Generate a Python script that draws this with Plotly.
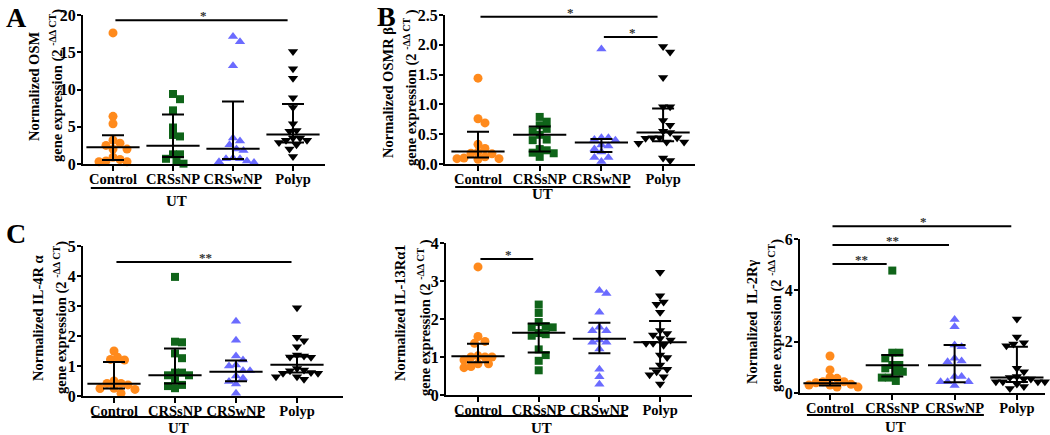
import plotly.graph_objects as go

WIDTH, HEIGHT = 1050, 435
SERIF = "Liberation Serif"

GROUPS = ["Control", "CRSsNP", "CRSwNP", "Polyp"]
SYMBOLS = ["circle", "square", "triangle-up", "triangle-down"]
COLORS = ["#FF8A1C", "#0F6419", "#6B6BFF", "#000000"]
SIZES = [9, 8, 9, 9]

# A: OSM
osm_control = [17.6, 6.4, 5.4, 3.2, 2.8, 2.5, 2.0, 2.0, 0.9, 0.6, 0.4, 0.3, 0.3]
osm_crssnp = [9.4, 8.7, 7.2, 4.9, 3.9, 3.7, 1.3, 1.3, 0.7, 0.4, 0.05]
osm_crswnp = [17.1, 16.4, 13.2, 3.5, 3.1, 2.6, 2.0, 1.8, 0.8, 0.7, 0.7, 0.4, 0.3, 0.2]
osm_polyp = [15.1, 12.8, 11.5, 8.9, 7.6, 5.4, 4.5, 4.4, 3.5, 3.5, 3.2, 3.2, 2.9, 2.6, 2.0, 1.0]
osm_median = [2.25, 2.46, 2.05, 3.95]
osm_q1 = [0.55, 0.95, 0.67, 2.9]
osm_q3 = [3.85, 6.65, 8.4, 8.05]
osm_sig = [(0, 3, 19.3, "*")]

# B: OSMR beta
osmr_control = [1.44, 0.76, 0.69, 0.33, 0.26, 0.2, 0.18, 0.17, 0.12, 0.1, 0.09, 0.09, 0.08]
osmr_crssnp = [0.79, 0.71, 0.65, 0.59, 0.55, 0.49, 0.41, 0.40, 0.25, 0.23, 0.19, 0.18, 0.12]
osmr_crswnp = [1.93, 0.44, 0.44, 0.41, 0.40, 0.32, 0.30, 0.25, 0.20, 0.11, 0.11, 0.04]
osmr_polyp = [1.97, 1.88, 1.45, 0.96, 0.96, 0.73, 0.65, 0.55, 0.53, 0.44, 0.44, 0.44,
              0.43, 0.37, 0.35, 0.37, 0.10, 0.06]
osmr_median = [0.21, 0.49, 0.36, 0.53]
osmr_q1 = [0.11, 0.21, 0.20, 0.38]
osmr_q3 = [0.54, 0.63, 0.42, 0.93]
osmr_sig = [(0, 3, 2.47, "*"), (2, 3, 2.13, "*")]

# C: IL-4R alpha
il4r_control = [1.5, 1.29, 1.22, 1.2, 0.5, 0.42, 0.42, 0.37, 0.26, 0.25, 0.22, 0.09]
il4r_crssnp = [3.97, 1.81, 1.79, 1.42, 1.26, 0.78, 0.78, 0.69, 0.69, 0.53, 0.37, 0.33, 0.26]
il4r_crswnp = [2.49, 1.86, 1.33, 1.2, 1.03, 1.0, 0.84, 0.84, 0.67, 0.59, 0.48, 0.40, 0.09]
il4r_polyp = [2.94, 1.96, 1.84, 1.64, 1.37, 1.33, 1.29, 1.3, 0.92, 0.87, 0.84, 0.78,
              0.76, 0.76, 0.64, 0.64, 0.56]
il4r_median = [0.41, 0.69, 0.81, 1.04]
il4r_q1 = [0.25, 0.42, 0.49, 0.78]
il4r_q3 = [1.13, 1.58, 1.18, 1.32]
il4r_sig = [(0, 3, 4.47, "**")]

# C: IL-13R alpha1
il13r_control = [3.37, 1.54, 1.41, 1.36, 1.03, 1.0, 1.0, 1.0, 0.92, 0.82, 0.82, 0.75, 0.72]
il13r_crssnp = [2.38, 2.16, 1.92, 1.81, 1.78, 1.78, 1.63, 1.6, 1.56, 1.2, 1.05, 0.9, 0.65]
il13r_crswnp = [2.75, 2.67, 2.18, 1.78, 1.69, 1.69, 1.45, 1.39, 1.39, 1.21, 0.68, 0.48, 0.28]
il13r_polyp = [3.23, 2.61, 2.45, 2.39, 2.18, 1.7, 1.62, 1.58, 1.49, 1.45, 1.36, 1.36,
               1.31, 1.05, 0.99, 0.79, 0.68, 0.61, 0.53, 0.48, 0.29]
il13r_median = [1.02, 1.64, 1.48, 1.39]
il13r_q1 = [0.86, 1.12, 1.10, 0.70]
il13r_q3 = [1.35, 1.88, 1.90, 1.95]
il13r_sig = [(0, 1, 3.58, "*")]

# C: IL-2R gamma
il2r_control = [1.44, 0.9, 0.61, 0.57, 0.44, 0.44, 0.4, 0.34, 0.31, 0.31, 0.23, 0.23]
il2r_crssnp = [4.77, 1.57, 1.57, 1.35, 1.09, 1.09, 0.96, 0.83, 0.83, 0.6, 0.6, 0.47]
il2r_crswnp = [2.86, 2.58, 1.87, 1.8, 1.35, 1.25, 1.22, 0.64, 0.64, 0.44, 0.44, 0.44, 0.29]
il2r_polyp = [2.88, 2.18, 1.96, 1.91, 1.84, 0.96, 0.83, 0.64, 0.6, 0.55, 0.55, 0.44,
              0.44, 0.44, 0.44, 0.35, 0.25, 0.18]
il2r_median = [0.38, 1.08, 1.08, 0.60]
il2r_q1 = [0.29, 0.64, 0.42, 0.43]
il2r_q3 = [0.51, 1.48, 1.87, 1.80]
il2r_sig = [(0, 3, 6.5, "*"), (0, 2, 5.77, "**"), (0, 1, 5.03, "**")]

SUP = "<sup>-\u0394\u0394 CT</sup>"

# pixel layout of each panel
PANELS = [
    dict(groups=[osm_control, osm_crssnp, osm_crswnp, osm_polyp],
         median=osm_median, q1=osm_q1, q3=osm_q3, sig=osm_sig,
         ymax=20, dtick=5, fmt="d", px_x=(83, 325), px_y=(15, 164), cat0=113, step=60,
         title=("Normalized OSM", "gene expression (2 " + SUP + ")"),
         title_pos=((34, 87), (56, 86)), ut=(24, 37), letter=("A", 16, 17)),
    dict(groups=[osmr_control, osmr_crssnp, osmr_crswnp, osmr_polyp],
         median=osmr_median, q1=osmr_q1, q3=osmr_q3, sig=osmr_sig,
         ymax=2.5, dtick=0.5, fmt=".1f", px_x=(445, 695), px_y=(15, 164), cat0=478, step=61.7,
         title=("Normalized OSMR \u03b2", "gene expression (2 " + SUP + " )"),
         title_pos=((388, 93), (410, 88)), ut=(23, 30), letter=("B", 386, 16)),
    dict(groups=[il4r_control, il4r_crssnp, il4r_crswnp, il4r_polyp],
         median=il4r_median, q1=il4r_q1, q3=il4r_q3, sig=il4r_sig,
         ymax=5, dtick=1, fmt="d", px_x=(83, 343), px_y=(246, 396), cat0=114, step=61,
         title=("Normalized IL-4R \u03b1", "gene expression (2 " + SUP + ")"),
         title_pos=((38, 318), (60, 318)), ut=(21, 32), letter=("C", 16, 233)),
    dict(groups=[il13r_control, il13r_crssnp, il13r_crswnp, il13r_polyp],
         median=il13r_median, q1=il13r_q1, q3=il13r_q3, sig=il13r_sig,
         ymax=4, dtick=1, fmt="d", px_x=(446, 692), px_y=(243, 395), cat0=478, step=60.7,
         title=("Normalized IL-13R\u03b11", "gene expression (2 " + SUP + " )"),
         title_pos=((400, 313), (424, 318)), ut=(21, 33), letter=None),
    dict(groups=[il2r_control, il2r_crssnp, il2r_crswnp, il2r_polyp],
         median=il2r_median, q1=il2r_q1, q3=il2r_q3, sig=il2r_sig,
         ymax=6, dtick=2, fmt="d", px_x=(800, 1045), px_y=(239, 393), cat0=830, step=62.3,
         title=("Normalized  IL-2R\u03b3", "gene expression (2 " + SUP + ")"),
         title_pos=((752, 322), (775, 316)), ut=(22, 34), letter=None),
]


def swarm_offsets(values, y_scale, x_scale, size=7.0):
    # simple beeswarm: place points from top to bottom, nudging sideways on collision
    order = sorted(range(len(values)), key=lambda k: -values[k])
    placed = []
    out = [0.0] * len(values)
    for k in order:
        y = values[k] * y_scale
        n = 0
        while True:
            cands = [0.0] if n == 0 else [n * size / 2, -n * size / 2]
            hit = None
            for c in cands:
                if all((c - px) ** 2 + (y - py) ** 2 >= size ** 2 for px, py in placed):
                    hit = c
                    break
            if hit is not None:
                break
            n += 1
        placed.append((hit, y))
        out[k] = hit / x_scale
    return out


def font(size, color="black"):
    return dict(family=SERIF, size=size, color=color, weight="bold")


fig = go.Figure()
layout = dict(
    template="none",
    width=WIDTH, height=HEIGHT, margin=dict(l=0, r=0, t=0, b=0, pad=0, autoexpand=False),
    paper_bgcolor="white", plot_bgcolor="white", showlegend=False, hovermode=False,
)
shapes, annotations = [], []

for n, p in enumerate(PANELS, start=1):
    suffix = "" if n == 1 else str(n)
    xid, yid = "x" + suffix, "y" + suffix
    x0, x1 = p["px_x"]
    y0, y1 = p["px_y"]
    plot_h = y1 - y0
    y_scale = plot_h / p["ymax"]

    for g, vals in enumerate(p["groups"]):
        offs = swarm_offsets(vals, y_scale, p["step"])
        fig.add_trace(go.Scatter(
            x=[g + o for o in offs], y=vals, mode="markers", xaxis=xid, yaxis=yid,
            cliponaxis=False,
            marker=dict(symbol=SYMBOLS[g], size=SIZES[g], color=COLORS[g], line=dict(width=0)),
        ))

    med = p["median"]
    fig.add_trace(go.Scatter(
        x=list(range(len(GROUPS))), y=med, mode="markers", xaxis=xid, yaxis=yid,
        cliponaxis=False,
        marker=dict(symbol="line-ew", size=38, color="black", line=dict(width=2, color="black")),
        error_y=dict(type="data", symmetric=False,
                     array=[h - m for h, m in zip(p["q3"], med)],
                     arrayminus=[m - l for m, l in zip(med, p["q1"])],
                     width=11, thickness=2, color="black"),
    ))

    layout["xaxis" + suffix] = dict(
        domain=[x0 / WIDTH, x1 / WIDTH], anchor=yid, automargin=False,
        range=[(x0 - p["cat0"]) / p["step"], (x1 - p["cat0"]) / p["step"]],
        tickvals=list(range(len(GROUPS))), ticktext=GROUPS, tickangle=0,
        showline=True, linecolor="black", linewidth=2, ticks="outside", ticklen=5,
        tickwidth=2, tickcolor="black", showgrid=False, zeroline=False,
        ticklabelstandoff=-4, tickfont=font(14.5),
    )
    layout["yaxis" + suffix] = dict(
        domain=[1 - y1 / HEIGHT, 1 - y0 / HEIGHT], anchor=xid, automargin=False,
        range=[0, p["ymax"]], dtick=p["dtick"], tick0=0, tickformat=p["fmt"],
        showline=True, linecolor="black", linewidth=2, ticks="outside", ticklen=4,
        tickwidth=2, tickcolor="black", showgrid=False, zeroline=False,
        ticklabelstandoff=-2, tickfont=font(16),
    )

    # significance bars
    for i, j, yv, label in p["sig"]:
        yd = yv / p["ymax"]
        shapes.append(dict(type="line", xref=xid, yref=yid + " domain",
                           x0=i + 0.04, x1=j - 0.09, y0=yd, y1=yd,
                           line=dict(color="black", width=2)))
        annotations.append(dict(xref=xid, yref=yid + " domain", x=(i + j) / 2, y=yd,
                                text=label, showarrow=False, yanchor="bottom", yshift=-5,
                                font=font(13, "#333333")))

    # UT grouping underline
    ut_line, ut_text = p["ut"]
    shapes.append(dict(type="line", xref=xid, yref=yid + " domain",
                       x0=-0.37, x1=2.47, y0=-ut_line / plot_h, y1=-ut_line / plot_h,
                       line=dict(color="black", width=2)))
    annotations.append(dict(xref=xid, yref=yid + " domain", x=1.05, y=-ut_text / plot_h,
                            text="UT", showarrow=False, yanchor="middle", font=font(15)))

    # y axis title, two rotated lines
    for text, (tx, ty) in zip(p["title"], p["title_pos"]):
        annotations.append(dict(xref="paper", yref="paper", x=tx / WIDTH, y=1 - ty / HEIGHT,
                                text=text, textangle=-90, showarrow=False,
                                xanchor="center", yanchor="middle", font=font(14.5)))

    if p["letter"]:
        letter, lx, ly = p["letter"]
        annotations.append(dict(xref="paper", yref="paper", x=lx / WIDTH, y=1 - ly / HEIGHT,
                                text=letter, showarrow=False, xanchor="center",
                                yanchor="middle", font=font(28)))

layout["shapes"] = shapes
layout["annotations"] = annotations
fig.update_layout(**layout)

# drop the browser's default 8px body margin so the figure sits at the page origin
fig.write_html("out.html", config={"displayModeBar": False},
               post_script="document.body.style.margin = '0';")
